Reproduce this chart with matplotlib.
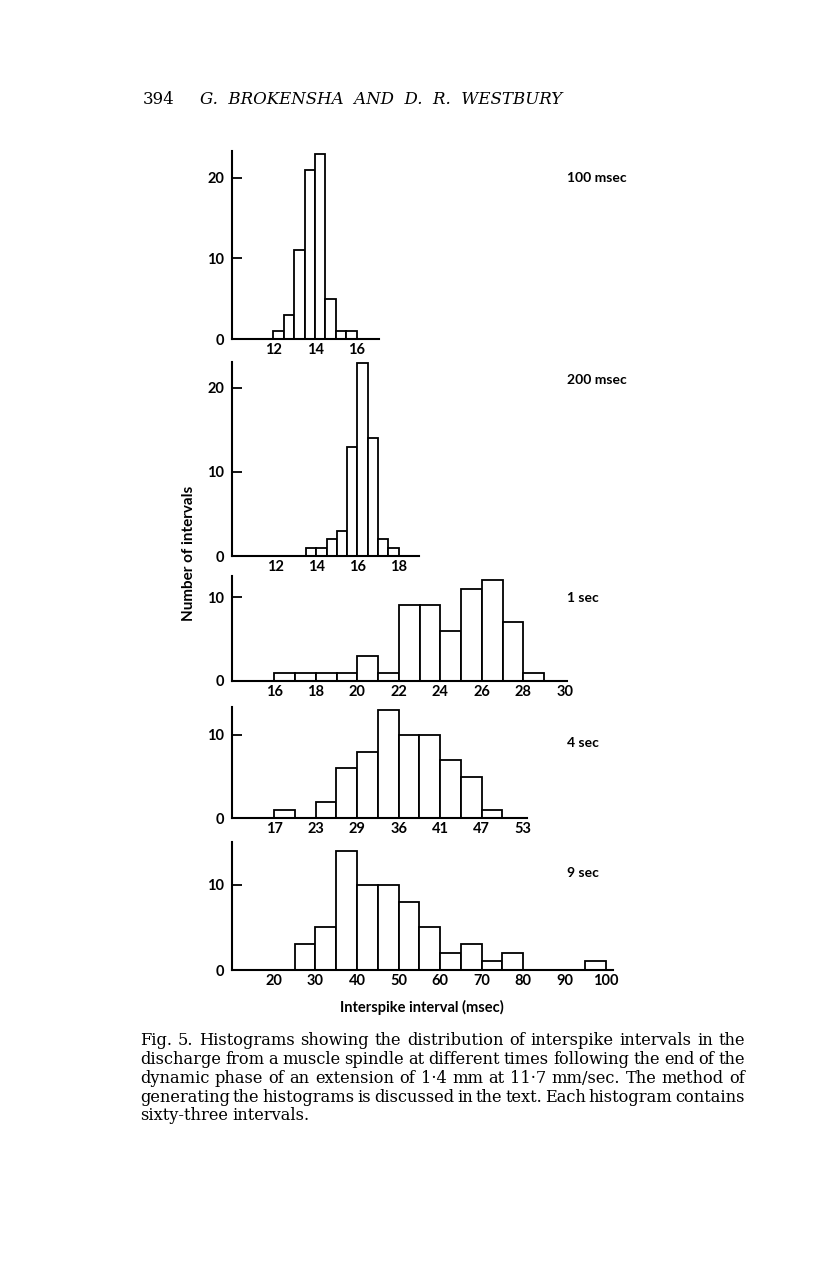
import matplotlib
matplotlib.use("Agg")
import matplotlib.pyplot as plt

# ---------------- data ----------------
msec100_bins = [12.0, 12.5, 13.0, 13.5, 14.0, 14.5, 15.0, 15.5]
msec100_counts = [1, 3, 11, 21, 23, 5, 1, 1]
msec100_ticks = [12, 14, 16]

msec200_bins = [13.5, 14.0, 14.5, 15.0, 15.5, 16.0, 16.5, 17.0, 17.5]
msec200_counts = [1, 1, 2, 3, 13, 23, 14, 2, 1]
msec200_ticks = [12, 14, 16, 18]
msec200_marks = [12]

sec1_bins = [16, 17, 18, 19, 20, 21, 22, 23, 24, 25, 26, 27, 28]
sec1_counts = [1, 1, 1, 1, 3, 1, 9, 9, 6, 11, 12, 7, 1]
sec1_ticks = [16, 18, 20, 22, 24, 26, 28, 30]
sec1_marks = [30]

sec4_bins = [17, 20, 23, 26, 29, 32, 35, 38, 41, 44, 47, 50]
sec4_counts = [1, 0, 2, 6, 8, 13, 10, 10, 7, 5, 1, 0]
sec4_ticks = [17, 23, 29, 35, 41, 47, 53]
sec4_ticklabels = ["17", "23", "29", "36", "41", "47", "53"]
sec4_marks = [53]

sec9_bins = [25, 30, 35, 40, 45, 50, 55, 60, 65, 70, 75, 80, 85, 90, 95]
sec9_counts = [3, 5, 14, 10, 10, 8, 5, 2, 3, 1, 2, 0, 0, 0, 1]
sec9_ticks = [20, 30, 40, 50, 60, 70, 80, 90, 100]
sec9_marks = [20, 90]

panel_names = ["100 msec", "200 msec", "1 sec", "4 sec", "9 sec"]

caption_lines = [
    "Fig. 5. Histograms showing the distribution of interspike intervals in the",
    "discharge from a muscle spindle at different times following the end of the",
    "dynamic phase of an extension of 1\u00b74 mm at 11\u00b77 mm/sec. The method of",
    "generating the histograms is discussed in the text. Each histogram contains",
    "sixty-three intervals.",
]

# ---------------- layout ----------------
W, H = 816, 1281
fig = plt.figure(figsize=(W / 100, H / 100), dpi=100)
fig.patch.set_facecolor("white")

SANS = ["Lato", "DejaVu Sans"]
SERIF = ["DejaVu Serif"]
LFS = 10.5
CFS = 11.7


def px_axes(x0, x1, ybot, ytop):
    return fig.add_axes([x0 / W, 1 - ybot / H, (x1 - x0) / W, (ybot - ytop) / H])


panels = [
    dict(rect=(231.7, 379, 339, 151), xlim=(10, 17.07), ylim=(0, 23.35),
         bins=msec100_bins, counts=msec100_counts, width=0.5,
         ticks=msec100_ticks, labels=[str(t) for t in msec100_ticks],
         marks=[], yticks=[0, 10, 20], name_y=178),
    dict(rect=(231.7, 419.3, 556, 361.7), xlim=(9.9, 19.0), ylim=(0, 23.1),
         bins=msec200_bins, counts=msec200_counts, width=0.5,
         ticks=msec200_ticks, labels=[str(t) for t in msec200_ticks],
         marks=msec200_marks, yticks=[0, 10, 20], name_y=380),
    dict(rect=(231.7, 566.7, 681, 576), xlim=(13.95, 30.09), ylim=(0, 12.5),
         bins=sec1_bins, counts=sec1_counts, width=1,
         ticks=sec1_ticks, labels=[str(t) for t in sec1_ticks],
         marks=sec1_marks, yticks=[0, 10], name_y=598),
    dict(rect=(231.7, 526.7, 818.3, 707.3), xlim=(10.85, 53.5), ylim=(0, 13.3),
         bins=sec4_bins, counts=sec4_counts, width=3,
         ticks=sec4_ticks, labels=sec4_ticklabels,
         marks=sec4_marks, yticks=[0, 10], name_y=743),
    dict(rect=(231.7, 613.3, 970, 842.3), xlim=(9.85, 101.7), ylim=(0, 15.0),
         bins=sec9_bins, counts=sec9_counts, width=5,
         ticks=sec9_ticks, labels=[str(t) for t in sec9_ticks],
         marks=sec9_marks, yticks=[0, 10], name_y=873),
]

for p, name in zip(panels, panel_names):
    ax = px_axes(*p["rect"])
    ax.set_facecolor("none")
    ax.bar(p["bins"], p["counts"], width=p["width"], align="edge",
           color="white", edgecolor="black", linewidth=1.3, zorder=2)
    ax.set_xlim(*p["xlim"])
    ax.set_ylim(*p["ylim"])
    for s in ["top", "right"]:
        ax.spines[s].set_visible(False)
    for s in ["left", "bottom"]:
        ax.spines[s].set_linewidth(1.5)
        ax.spines[s].set_zorder(3)
    ax.set_yticks(p["yticks"])
    ax.set_yticklabels([str(t) for t in p["yticks"]])
    ax.set_xticks(p["ticks"])
    ax.set_xticklabels(p["labels"])
    ax.set_xticks(p["marks"], minor=True)
    ax.tick_params(axis="y", direction="in", length=7, width=1.3, pad=5.5)
    ax.tick_params(axis="x", which="major", length=0, pad=3.0)
    ax.tick_params(axis="x", which="minor", direction="in", length=6, width=1.3)
    for lab in ax.get_xticklabels() + ax.get_yticklabels():
        lab.set_family(SANS)
        lab.set_fontweight("bold")
        lab.set_fontsize(LFS)
    fig.text(566.7 / W, 1 - p["name_y"] / H, name, ha="left", va="center",
             family=SANS, fontweight="bold", fontsize=10)

fig.text(189 / W, 1 - 553 / H, "Number of intervals", rotation=90,
         ha="center", va="center", family=SANS, fontweight="bold", fontsize=11)
fig.text(422 / W, 1 - 1007 / H, "Interspike interval (msec)",
         ha="center", va="center", family=SANS, fontweight="bold", fontsize=10.5)

# header
fig.text(143 / W, 1 - 104 / H, "394", ha="left", va="baseline",
         family=SERIF, fontsize=12)
fig.text(200 / W, 1 - 104 / H, "G.  BROKENSHA  AND  D.  R.  WESTBURY",
         ha="left", va="baseline", family=SERIF, style="italic", fontsize=12)

# justified caption
renderer = fig.canvas.get_renderer()
x_left, x_right = 140, 745
baselines = [1045, 1064, 1083, 1101.5, 1120]
for i, (line, yb) in enumerate(zip(caption_lines, baselines)):
    words = line.split(" ")
    texts = [fig.text(0, 1 - yb / H, w, ha="left", va="baseline",
                      family=SERIF, fontsize=CFS) for w in words]
    widths = [t.get_window_extent(renderer).width for t in texts]
    last = i == len(caption_lines) - 1
    if last or len(words) == 1:
        sp = 0.3 * CFS * 100 / 72
    else:
        sp = (x_right - x_left - sum(widths)) / (len(words) - 1)
    x = x_left
    for t, w in zip(texts, widths):
        t.set_x(x / W)
        x += w + sp

fig.savefig("out.png", dpi=100, facecolor="white")
